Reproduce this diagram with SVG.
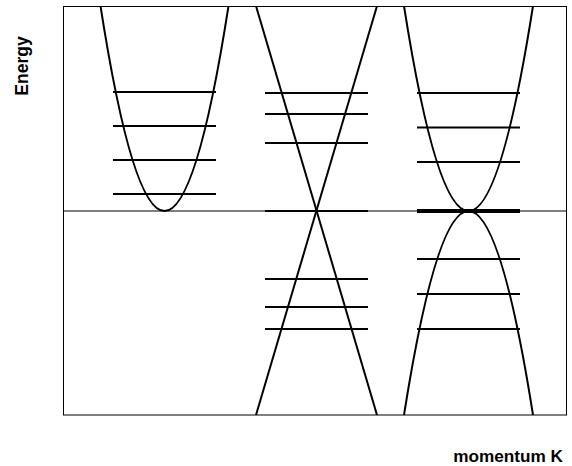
<svg xmlns="http://www.w3.org/2000/svg" width="572" height="466" viewBox="0 0 572 466">
<style>
.frame{fill:none;stroke:#000;stroke-width:1}
.axis{stroke:#000;stroke-width:1}
.band{fill:none;stroke:#000;stroke-width:2}
.lvl{stroke:#000;stroke-width:2}
.lvl0{stroke:#000;stroke-width:4}
.lbl{font-family:"Liberation Sans",Arial,sans-serif;font-weight:bold;fill:#000}
</style>
<defs><clipPath id="box"><rect x="63" y="6" width="504" height="409"/></clipPath></defs>
<rect width="572" height="466" fill="#fff"/>
<g id="frame">
<rect class="frame" x="63.5" y="6.5" width="503" height="408.5"/>
<line class="axis" x1="63" y1="211" x2="567" y2="211"/>
</g>
<g id="connectors" clip-path="url(#box)">
<path id="band-parabola" class="band" d="M100.5,6 Q164.5,416 228.5,6"/>
<path id="band-dirac-1" class="band" d="M256,6 L377,415"/>
<path id="band-dirac-2" class="band" d="M377,6 L256,415"/>
<path id="band-bilayer-up" class="band" d="M404,6 Q468.5,416 533,6"/>
<path id="band-bilayer-down" class="band" d="M404,415 Q468.5,7 533,415"/>
</g>
<g id="levels-parabola">
<line class="lvl" x1="113" y1="92" x2="216" y2="92"/>
<line class="lvl" x1="113" y1="126" x2="216" y2="126"/>
<line class="lvl" x1="113" y1="160" x2="216" y2="160"/>
<line class="lvl" x1="113" y1="194" x2="216" y2="194"/>
</g>
<g id="levels-dirac">
<line class="lvl" x1="265" y1="93" x2="368" y2="93"/>
<line class="lvl" x1="265" y1="114" x2="368" y2="114"/>
<line class="lvl" x1="265" y1="143" x2="368" y2="143"/>
<line class="lvl" x1="265" y1="211" x2="368" y2="211"/>
<line class="lvl" x1="265" y1="279" x2="368" y2="279"/>
<line class="lvl" x1="265" y1="307" x2="368" y2="307"/>
<line class="lvl" x1="265" y1="329" x2="368" y2="329"/>
</g>
<g id="levels-bilayer">
<line class="lvl" x1="417" y1="93" x2="520" y2="93"/>
<line class="lvl" x1="417" y1="127.5" x2="520" y2="127.5"/>
<line class="lvl" x1="417" y1="162" x2="520" y2="162"/>
<line class="lvl0" x1="417" y1="211" x2="520" y2="211"/>
<line class="lvl" x1="417" y1="259" x2="520" y2="259"/>
<line class="lvl" x1="417" y1="294" x2="520" y2="294"/>
<line class="lvl" x1="417" y1="329" x2="520" y2="329"/>
</g>
<g id="label-energy">
<text class="lbl" font-size="17.5" transform="translate(28,66) rotate(-90)" text-anchor="middle">Energy</text>
</g>
<g id="label-momentum">
<text class="lbl" font-size="17.2" x="563" y="462" text-anchor="end">momentum K</text>
</g>
</svg>
